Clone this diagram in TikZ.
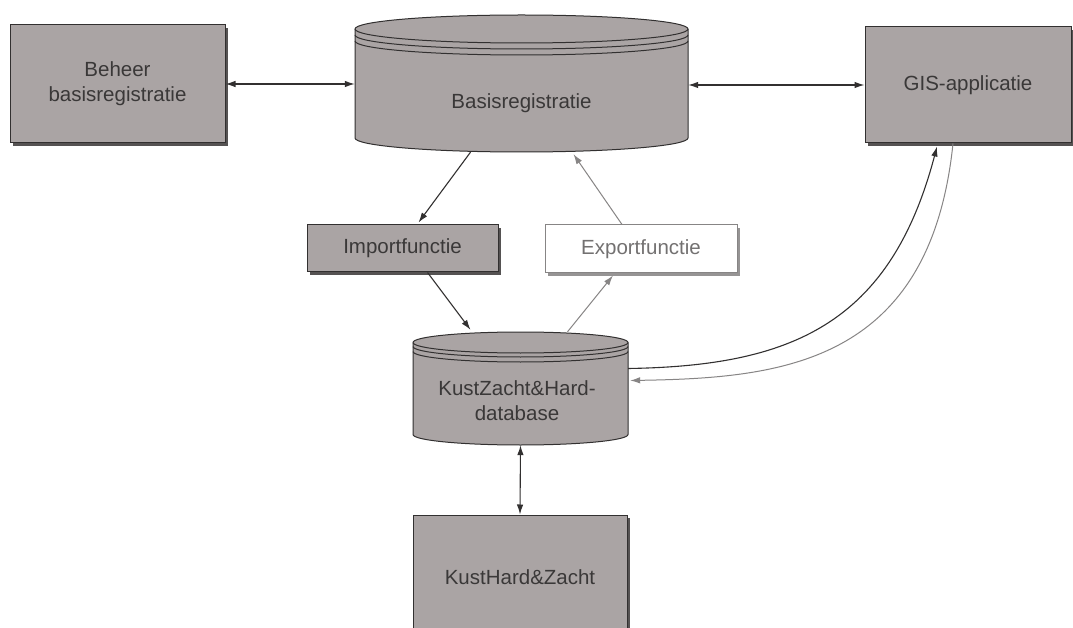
\documentclass[tikz,border=0pt]{standalone}
\usepackage{fontspec}
\setmainfont{Liberation Sans}
\usetikzlibrary{arrows.meta,calc,shadows}

\definecolor{boxgray}{RGB}{170,164,164}
\definecolor{inkdark}{RGB}{50,48,48}
\definecolor{inklight}{RGB}{135,133,133}
\definecolor{txtdark}{RGB}{58,56,56}
\definecolor{txtlight}{RGB}{115,113,113}
\definecolor{shadowgray}{RGB}{85,82,82}
\definecolor{shadowlight}{RGB}{150,148,148}

% Database cylinder: left, right, top, bottom, y-radius, two extra rim offsets
\newcommand\dbdraw[7]{%
  \pgfmathsetmacro\dbrx{(#2-#1)/2}%
  \filldraw[dbbody] (#1,#3+#5) -- (#1,#4-#5)
    arc[start angle=180,end angle=0,x radius=\dbrx,y radius=#5]
    -- (#2,#3+#5)
    arc[start angle=0,end angle=-180,x radius=\dbrx,y radius=#5] -- cycle;
  \draw[dbbody,fill=none] (#1,#3+#5) arc[start angle=180,end angle=0,x radius=\dbrx,y radius=#5];
  \draw[dbbody,fill=none] (#1,#3+#5+#6) arc[start angle=180,end angle=0,x radius=\dbrx,y radius=#5];
  \draw[dbbody,fill=none] (#1,#3+#5+#7) arc[start angle=180,end angle=0,x radius=\dbrx,y radius=#5];
}

\begin{document}
\begin{tikzpicture}[x=1pt,y=-1pt,
  >={Latex[length=10pt,width=6.5pt]},
  txt/.style={text=txtdark,font=\fontsize{20.5}{25}\selectfont,align=center},
  box/.style={txt,draw=inkdark,line width=1pt,fill=boxgray,inner sep=0pt,
    drop shadow={shadow xshift=3pt,shadow yshift=-3pt,opacity=1,fill=shadowgray}},
  lightbox/.style={txt,text=txtlight,draw=inklight,line width=1pt,fill=white,inner sep=0pt,
    drop shadow={shadow xshift=3pt,shadow yshift=-3pt,opacity=1,fill=shadowlight}},
  dbnode/.style={inner sep=0pt},
  dbbody/.style={draw=inkdark,line width=1pt,fill=boxgray},
  darkarrow/.style={draw=inkdark,line width=1.1pt,->},
  lightarrow/.style={draw=inklight,line width=1pt,->},
  twoway/.style={draw=inkdark,line width=1.1pt,<->}]
\useasboundingbox (0,0) rectangle (1073,628);
\fill[white] (0,0) rectangle (1073,628);

% boxes
\node[box,minimum width=215pt,minimum height=118pt] (beheer) at (117.5,84) {Beheer\\basisregistratie};
\node[box,minimum width=206pt,minimum height=116pt] (gis) at (968,85) {GIS-applicatie};
\node[box,minimum width=191pt,minimum height=47pt] (import) at (402.5,248.5) {Importfunctie};
\node[lightbox,minimum width=192pt,minimum height=48pt] (export) at (641,249) {Exportfunctie};
\node[box,minimum width=214pt,minimum height=125pt] (kusthard) at (520,577.5) {KustHard\&Zacht};

% databases
\dbdraw{355}{688}{15}{152}{14}{6}{12}
\node[dbnode,minimum width=333pt,minimum height=137pt] (basis) at (521.5,83.5) {};
\node[txt] (basislbl) at (521.5,103) {Basisregistratie};

\dbdraw{413}{628}{332}{445}{10.5}{4}{9}
\node[dbnode,minimum width=215pt,minimum height=113pt] (kzh) at (520.5,388.5) {};
\node[txt] (kzhlbl) at (517,401) {KustZacht\&Hard-\\database};

% connectors
\draw[twoway] (beheer.east) -- (beheer.east -| basis.west);
\draw[twoway] (gis.west -| basis.east) -- (gis.west);
\draw[darkarrow] ($(basis.south)+(-51,0)$) -- ($(import.north)+(16,-2)$);
\draw[lightarrow] ($(export.north)+(-19,0)$) -- ($(basis.south)+(52,2)$);
\draw[darkarrow] ($(import.south)+(25,0)$) -- ($(kzh.north)+(-50,-2)$);
\draw[lightarrow] ($(kzh.north)+(47,0)$) -- ($(export.south)+(-28,2)$);
\draw[twoway] (kzh.south) -- (kusthard.north);
\draw[darkarrow] ($(kzh.east)+(0,-20)$) .. controls (790,366) and (890,325) .. ($(gis.south)+(-31,3)$);
\draw[lightarrow] ($(gis.south)+(-15,0)$) .. controls (930,365) and (780,378) .. ($(kzh.east)+(2,-8)$);
\end{tikzpicture}
\end{document}
